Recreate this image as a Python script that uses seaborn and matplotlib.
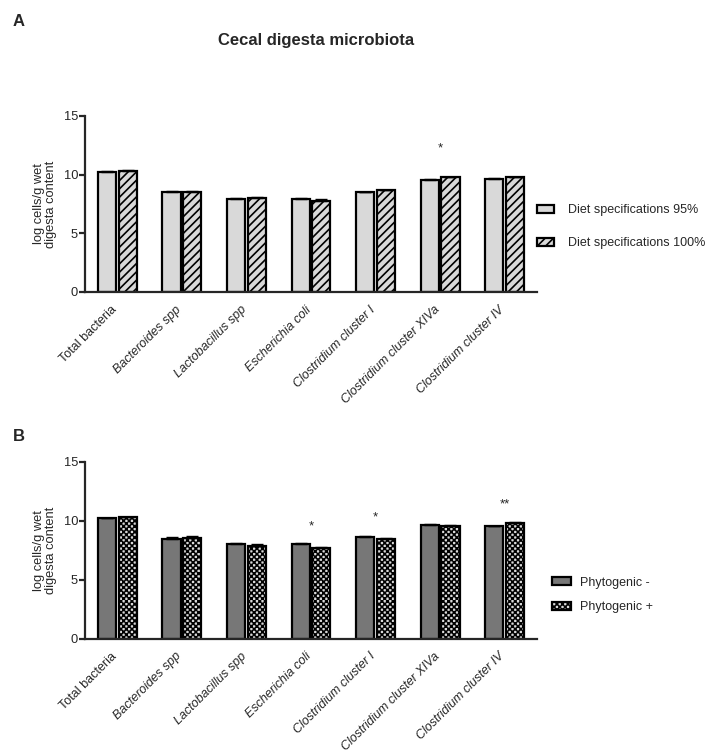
import numpy as np
import pandas as pd
import matplotlib
matplotlib.use("Agg")
import matplotlib.pyplot as plt
import matplotlib.hatch as mhatch
from matplotlib.path import Path
from matplotlib.patches import Patch
import seaborn as sns

# --- data ---
taxa = ["Total bacteria", "Bacteroides spp", "Lactobacillus spp", "Escherichia coli",
        "Clostridium cluster I", "Clostridium cluster XIVa", "Clostridium cluster IV"]

diet_groups = ["Diet specifications 95%", "Diet specifications 100%"]
diet_95 = [10.25, 8.50, 7.90, 7.90, 8.50, 9.55, 9.65]
diet_100 = [10.33, 8.50, 7.98, 7.78, 8.66, 9.77, 9.77]
diet_95_sem = [0.05, 0.12, 0.12, 0.12, 0.06, 0.06, 0.06]
diet_100_sem = [0.05, 0.12, 0.12, 0.15, 0.06, 0.06, 0.06]
diet_stars = ["", "", "", "", "", "*", ""]
diet_star_y = [0, 0, 0, 0, 0, 12.2, 0]

phyto_groups = ["Phytogenic -", "Phytogenic +"]
phyto_minus = [10.20, 8.47, 8.00, 8.00, 8.64, 9.64, 9.52]
phyto_plus = [10.29, 8.56, 7.88, 7.66, 8.47, 9.58, 9.81]
phyto_minus_sem = [0.05, 0.12, 0.12, 0.12, 0.05, 0.05, 0.06]
phyto_plus_sem = [0.05, 0.12, 0.12, 0.15, 0.05, 0.05, 0.06]
phyto_stars = ["", "", "", "*", "*", "", "**"]
phyto_star_y = [0, 0, 0, 9.5, 10.25, 0, 11.4]


# checkerboard hatch (matplotlib has none) -- drawn for every 'O' in the hatch string
class CheckerHatch(mhatch.HatchPatternBase):
    def __init__(self, hatch, density):
        self.n = int(hatch.count("O") * density)
        self.n -= self.n % 2
        self.num_vertices = 5 * (self.n * self.n // 2)

    def set_vertices_and_codes(self, vertices, codes):
        s = 1.0 / self.n
        pad = 0.006
        k = 0
        for i in range(self.n):
            for j in range(self.n):
                if (i + j) % 2:
                    continue
                x0, y0 = i * s + pad, j * s + pad
                x1, y1 = (i + 1) * s - pad, (j + 1) * s - pad
                vertices[k:k + 5] = [(x0, y0), (x1, y0), (x1, y1), (x0, y1), (x0, y0)]
                codes[k:k + 5] = [Path.MOVETO, Path.LINETO, Path.LINETO, Path.LINETO, Path.CLOSEPOLY]
                k += 5


mhatch._hatch_types = [t for t in mhatch._hatch_types if t is not mhatch.LargeCircles] + [CheckerHatch]

sns.set_style("ticks")
plt.rcParams["font.family"] = ["Liberation Sans", "DejaVu Sans"]
plt.rcParams["hatch.linewidth"] = 1.2

LW = 1.6
LIGHT = "#d9d9d9"
DARK = "#777777"


def draw_panel(ax, groups, vals1, vals2, sem1, sem2, colors, hatches, stars, star_y):
    df = pd.DataFrame({
        "taxon": taxa * 2,
        "group": [groups[0]] * len(taxa) + [groups[1]] * len(taxa),
        "value": vals1 + vals2,
    })
    sns.barplot(data=df, x="taxon", y="value", hue="group", palette=colors,
                width=0.64, gap=0.12, saturation=1, edgecolor="black",
                linewidth=LW, errorbar=None, legend=False, ax=ax)
    for cont, h in zip(ax.containers, hatches):
        for bar in cont:
            bar.set_hatch(h)
    for cont, vals, sem in zip(ax.containers, [vals1, vals2], [sem1, sem2]):
        xs = [b.get_x() + b.get_width() / 2 for b in cont]
        ax.errorbar(xs, vals, yerr=[np.zeros(len(sem)), sem], fmt="none",
                    ecolor="black", elinewidth=1, capsize=4, capthick=1, zorder=1)
    for i, (s, y) in enumerate(zip(stars, star_y)):
        if s:
            ax.text(i, y, s, ha="center", va="center", fontsize=9.5)

    ax.set_xlim(-0.5, 6.5)
    ax.set_ylim(0, 15)
    ax.set_yticks([0, 5, 10, 15])
    ax.set_xlabel("")
    ax.set_ylabel("log cells/g wet\ndigesta content", fontsize=9.3, labelpad=5, linespacing=1.0)
    sns.despine(ax=ax)
    for sp in ["left", "bottom"]:
        ax.spines[sp].set_linewidth(LW)
    ax.tick_params(axis="y", length=4, width=LW, labelsize=9.3, pad=1)
    ax.tick_params(axis="x", length=0, pad=13)
    ax.set_xticks(range(len(taxa)))
    ax.set_xticklabels(taxa, rotation=45, ha="right", va="baseline",
                       rotation_mode="anchor", fontsize=9)
    for lab in ax.get_xticklabels()[1:]:
        lab.set_style("italic")


fig = plt.figure(figsize=(7.08, 7.56), dpi=100)
axA = fig.add_axes([0.1201, 0.6138, 0.6384, 0.2328])
axB = fig.add_axes([0.1201, 0.1552, 0.6384, 0.2341])

draw_panel(axA, diet_groups, diet_95, diet_100, diet_95_sem, diet_100_sem,
           [LIGHT, LIGHT], ["", "////"], diet_stars, diet_star_y)
draw_panel(axB, phyto_groups, phyto_minus, phyto_plus, phyto_minus_sem, phyto_plus_sem,
           [DARK, LIGHT], ["", "OOOOOO"], phyto_stars, phyto_star_y)

handlesA = [Patch(facecolor=LIGHT, edgecolor="black", linewidth=LW, label=diet_groups[0]),
            Patch(facecolor=LIGHT, edgecolor="black", linewidth=LW, hatch="////", label=diet_groups[1])]
axA.legend(handles=handlesA, loc="center left", bbox_to_anchor=(0.759, 0.700),
           bbox_transform=fig.transFigure, frameon=False, borderpad=0, borderaxespad=0,
           handlelength=1.32, handleheight=0.6, handletextpad=1.1, labelspacing=1.65, fontsize=9)

handlesB = [Patch(facecolor=DARK, edgecolor="black", linewidth=LW, label=phyto_groups[0]),
            Patch(facecolor=LIGHT, edgecolor="black", linewidth=LW, hatch="OOOOOO", label=phyto_groups[1])]
axB.legend(handles=handlesB, loc="center left", bbox_to_anchor=(0.78, 0.213),
           bbox_transform=fig.transFigure, frameon=False, borderpad=0, borderaxespad=0,
           handlelength=1.5, handleheight=0.6, handletextpad=0.75, labelspacing=1.0, fontsize=9)

fig.text(0.446, 0.947, "Cecal digesta microbiota", ha="center", va="center",
         fontsize=12, fontweight="bold")
fig.text(0.018, 0.971, "A", ha="left", va="center", fontsize=12, fontweight="bold")
fig.text(0.018, 0.422, "B", ha="left", va="center", fontsize=12, fontweight="bold")

fig.savefig("out.png", dpi=100)
